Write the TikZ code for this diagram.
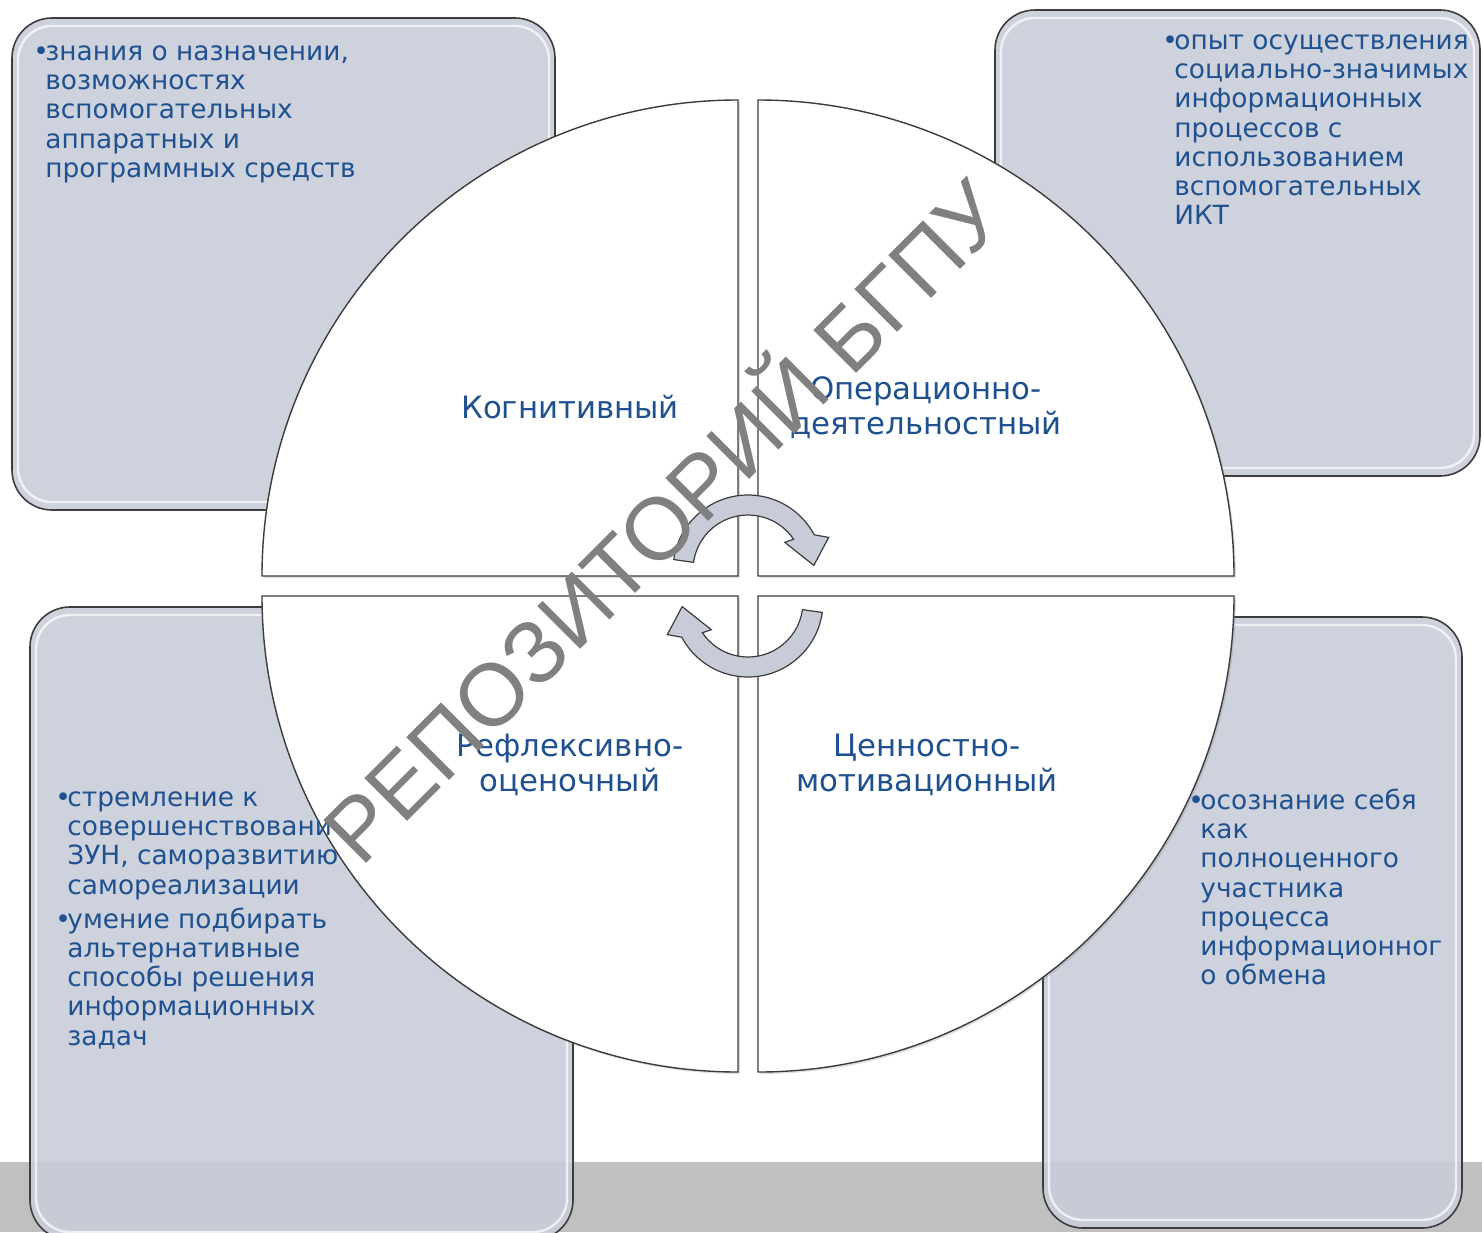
\documentclass[tikz,border=0pt]{standalone}
\usepackage{fontspec}
\setmainfont{DejaVu Sans}
\newfontfamily\markfont{Liberation Sans}
\usetikzlibrary{shadows}

\definecolor{boxgray}{RGB}{200,205,216}
\definecolor{textblue}{RGB}{31,80,143}
\definecolor{bandgray}{RGB}{192,192,192}
\definecolor{edgegray}{RGB}{60,60,60}
\definecolor{arrowgray}{RGB}{200,204,216}
\definecolor{markgray}{RGB}{128,128,128}

\newcommand{\itm}{\makebox[6pt][l]{•}}
\newcommand{\ind}{\hspace*{6pt}}

\begin{document}
\begin{tikzpicture}[x=0.5pt, y=0.5pt,
	cornerbox/.style={fill=boxgray, draw=edgegray, line width=0.8pt, rounded corners=20pt, fill opacity=0.9},
	glint/.style={draw=white, line width=1.2pt, rounded corners=17pt, opacity=0.7},
	quarter/.style={fill=white, draw=edgegray, line width=0.7pt, drop shadow={opacity=0.25, shadow xshift=1pt, shadow yshift=-1pt}},
	cycarrow/.style={fill=arrowgray, draw=edgegray, line width=0.6pt},
	boxtext/.style={anchor=north west, inner sep=0pt, align=left, text=textblue, font=\fontsize{13.2}{14.6}\selectfont},
	parttext/.style={align=center, inner sep=0pt, text=textblue, font=\fontsize{15.4}{17.5}\selectfont}]

\useasboundingbox (0,0) rectangle (1482,-1232);
\fill[bandgray] (0,-1162) rectangle (1482,-1232);

\draw[cornerbox] (12,-18) rectangle (555,-510);
\draw[cornerbox] (995,-10) rectangle (1480,-476);
\draw[cornerbox] (30,-607) rectangle (573,-1240);
\draw[cornerbox] (1043,-617) rectangle (1462,-1228);
\draw[glint] (18,-26) rectangle (549,-502);
\draw[glint] (1001,-18) rectangle (1474,-468);
\draw[glint] (36,-615) rectangle (567,-1232);
\draw[glint] (1049,-625) rectangle (1456,-1220);

\draw[quarter] (738,-576) -- (262,-576) arc[start angle=180, end angle=90, radius=476] -- cycle;
\draw[quarter] (758,-576) -- (758,-100) arc[start angle=90, end angle=0, radius=476] -- cycle;
\draw[quarter] (738,-596) -- (738,-1072) arc[start angle=270, end angle=180, radius=476] -- cycle;
\draw[quarter] (758,-596) -- (1234,-596) arc[start angle=0, end angle=-90, radius=476] -- cycle;

\begin{scope}[shift={(748,-570)}]
\draw[cycarrow] (172:75) arc[start angle=172, end angle=28, radius=75] -- (22:87) -- (4:66) -- (37:46) -- (34:55) arc[start angle=34, end angle=172, radius=55] -- cycle;
\end{scope}
\begin{scope}[shift={(748,-602)}, rotate=180]
\draw[cycarrow] (172:75) arc[start angle=172, end angle=28, radius=75] -- (22:87) -- (4:66) -- (37:46) -- (34:55) arc[start angle=34, end angle=172, radius=55] -- cycle;
\end{scope}

\node[boxtext] (know) at (33,-39.6) {\strut\itm знания о назначении,\\ \ind возможностях\\ \ind вспомогательных\\ \ind аппаратных и\\ \ind программных средств};
\node[boxtext] (exper) at (1162,-28.6) {\strut\itm опыт осуществления\\ \ind социально-значимых\\ \ind информационных\\ \ind процессов с\\ \ind использованием\\ \ind вспомогательных\\ \ind ИКТ};
\node[boxtext] (strive) at (55,-785.6) {\strut\itm стремление к\\ \ind совершенствовани\\ \ind ЗУН, саморазвитию\\ \ind самореализации\\[2.5pt] \itm умение подбирать\\ \ind альтернативные\\ \ind способы решения\\ \ind информационных\\ \ind задач};
\node[boxtext] (aware) at (1188,-788.6) {\strut\itm осознание себя\\ \ind как\\ \ind полноценного\\ \ind участника\\ \ind процесса\\ \ind информационног\\ \ind о обмена};

\node[parttext] (cogn) at (570,-407) {Когнитивный};
\node[parttext] (oper) at (926,-408) {Операционно-\\деятельностный};
\node[parttext] (refl) at (570,-765) {Рефлексивно-\\оценочный};
\node[parttext] (valu) at (927,-765) {Ценностно-\\мотивационный};

\node[rotate=45, inner sep=0pt, text=markgray, font=\markfont\fontsize{44}{50}\selectfont] (mark) at (658,-516) {РЕПОЗИТОРИЙ БГПУ};

\end{tikzpicture}
\end{document}
